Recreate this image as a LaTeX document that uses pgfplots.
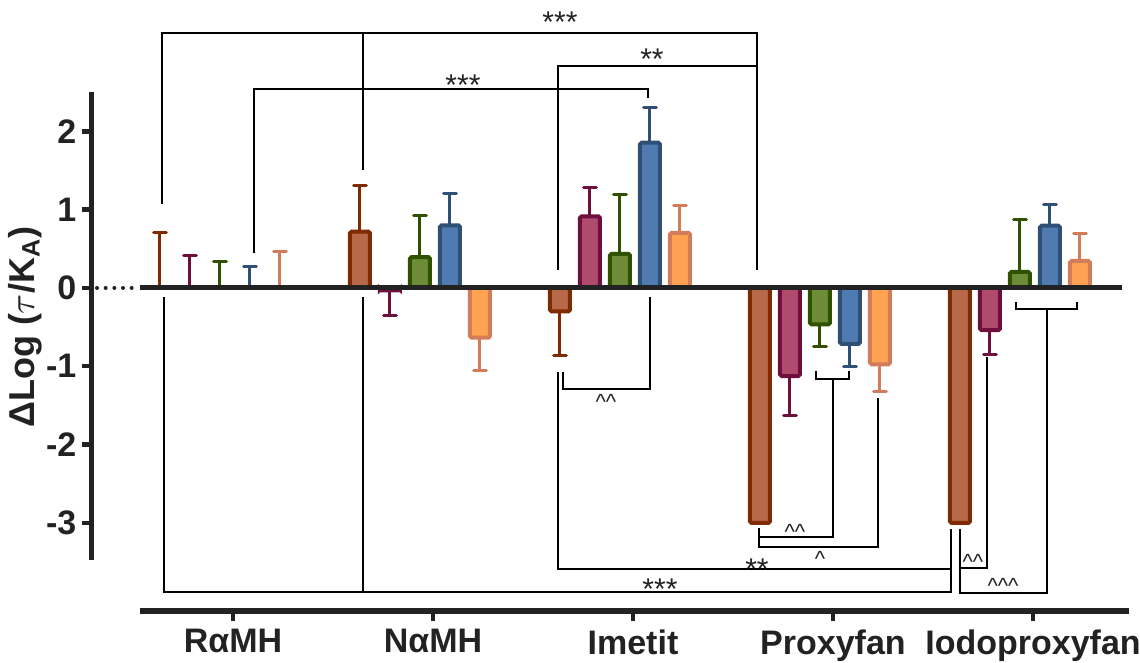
\documentclass[border=0pt]{standalone}
\usepackage{fontspec}
\setmainfont{Liberation Sans}
\usepackage{pgfplots}
\usepackage{pgfplotstable}
\pgfplotsset{compat=1.18}
\definecolor{axc}{HTML}{222222}
\definecolor{c1d}{HTML}{7F2A00}\definecolor{c1f}{HTML}{B7694A}
\definecolor{c2d}{HTML}{6E0F3D}\definecolor{c2f}{HTML}{B04B6E}
\definecolor{c3d}{HTML}{2F5200}\definecolor{c3f}{HTML}{6E8B37}
\definecolor{c4d}{HTML}{2F4F74}\definecolor{c4f}{HTML}{4F7BB0}
\definecolor{c5d}{HTML}{D27C5A}\definecolor{c5f}{HTML}{FFA352}

\pgfplotstableread{
x y ep em
-0.30 0 0.71 0
0.70 0.72 0.595 0
1.70 -0.30 0 0.565
2.70 -3.0 0 0
3.70 -3.0 0 0
}\tA
\pgfplotstableread{
x y ep em
-0.15 0 0.41 0
0.85 -0.03 0 0.32
1.85 0.915 0.365 0
2.85 -1.125 0 0.505
3.85 -0.54 0 0.316
}\tB
\pgfplotstableread{
x y ep em
0.00 0 0.335 0
1.00 0.395 0.525 0
2.00 0.435 0.765 0
3.00 -0.465 0 0.285
4.00 0.205 0.665 0
}\tC
\pgfplotstableread{
x y ep em
0.15 0 0.27 0
1.15 0.80 0.41 0
2.15 1.855 0.455 0
3.15 -0.715 0 0.285
4.15 0.795 0.265 0
}\tD
\pgfplotstableread{
x y ep em
0.30 0 0.47 0
1.30 -0.635 0 0.421
2.30 0.705 0.345 0
3.30 -0.975 0 0.345
4.30 0.345 0.345 0
}\tE

\pgfplotsset{
  mybar/.style n args={2}{ybar, bar width=0.1, bar shift=0pt, draw=#1, fill=#2,
    line width=1.2pt, rounded corners=0.5pt, mark=none,
    error bars/.cd, y dir=both, y explicit, error mark=|,
    error bar style={line width=0.9pt, color=#1, sharp corners},
    error mark options={line width=0.9pt, mark size=1.9pt, color=#1, line cap=round}},
}
\tikzset{br/.style={line width=0.6pt, black}, st/.style={font=\fontsize{9}{10}\selectfont, anchor=base, inner sep=0pt, text=axc},
  ca/.style={font=\fontsize{6.6}{7}\selectfont, anchor=base, inner sep=0pt, text=axc}}

\begin{document}
\begin{tikzpicture}
\begin{axis}[
  scale only axis, x=60pt, y=23.49pt,
  xmin=-0.64, xmax=4.6, ymin=-4.125, ymax=2.5,
  clip=false,
  axis x line*=bottom, axis y line*=left,
  axis line style={draw=none},
  tick align=outside, major tick length=3pt,
  tick style={line width=1.3pt, color=axc},
  xtick={0.065,1.065,2.065,3.065,4.065},
  xticklabels={RαMH,NαMH,Imetit,Proxyfan,Iodoproxyfan},
  ytick={-3,-2,-1,0,1,2},
  yticklabels={-3,-2,-1,0,1,2},
  ticklabel style={font=\bfseries\fontsize{10.2}{12}\selectfont, text=axc},
  yticklabel style={inner sep=1.5pt},
  xticklabel style={yshift=1pt},
]
\addplot[mybar={c1d}{c1f}] table[x=x,y=y,y error plus=ep,y error minus=em]{\tA};
\addplot[mybar={c2d}{c2f}] table[x=x,y=y,y error plus=ep,y error minus=em]{\tB};
\addplot[mybar={c3d}{c3f}] table[x=x,y=y,y error plus=ep,y error minus=em]{\tC};
\addplot[mybar={c4d}{c4f}] table[x=x,y=y,y error plus=ep,y error minus=em]{\tD};
\addplot[mybar={c5d}{c5f}] table[x=x,y=y,y error plus=ep,y error minus=em]{\tE};

% axes
\draw[line width=1.5pt, axc] (-0.64,-3.474) -- (-0.64,2.503);
\draw[line width=1.6pt, axc] (-0.4,-4.125) -- (4.545,-4.125);
\draw[line width=1.5pt, axc] (-0.4,0) -- (4.51,0);
\draw[line width=1.2pt, axc, line cap=round, dash pattern=on 0pt off 2.6pt] (-0.615,0) -- (-0.41,0);

% top brackets
\draw[br] (-0.29,1.073) -- (-0.29,3.257) -- (2.685,3.257) -- (2.685,0.23);
\draw[br] (0.715,1.507) -- (0.715,3.257);
\draw[br] (1.69,0.23) -- (1.69,2.835) -- (2.685,2.835);
\draw[br] (0.17,0.447) -- (0.17,2.54) -- (2.14,2.54) -- (2.14,2.43);
\node[st] at (1.70,3.257) {***};
\node[st] at (2.16,2.784) {**};
\node[st] at (1.215,2.452) {***};

% bottom brackets
\draw[br] (-0.28,-0.115) -- (-0.28,-3.88) -- (3.655,-3.88) -- (3.655,-3.078);
\draw[br] (0.715,-0.115) -- (0.715,-3.88);
\draw[br] (1.69,-1.073) -- (1.69,-3.589) -- (3.655,-3.589);
\draw[br] (1.715,-1.073) -- (1.715,-1.29) -- (2.15,-1.29) -- (2.15,-0.115);
\draw[br] (2.695,-3.065) -- (2.695,-3.18) -- (3.065,-3.18) -- (3.065,-1.162);
\draw[br] (2.98,-1.06) -- (2.98,-1.162) -- (3.145,-1.162) -- (3.145,-1.06);
\draw[br] (2.695,-3.18) -- (2.695,-3.308) -- (3.29,-3.308) -- (3.29,-1.405);
\draw[br] (3.70,-3.078) -- (3.70,-3.895) -- (4.135,-3.895) -- (4.135,-0.268);
\draw[br] (3.70,-3.576) -- (3.835,-3.576) -- (3.835,-0.881);
\draw[br] (3.98,-0.179) -- (3.98,-0.268) -- (4.285,-0.268) -- (4.285,-0.179);
\node[st] at (2.20,-3.985) {***};
\node[st] at (2.685,-3.729) {**};
\node[ca] at (1.93,-1.558) {\textasciicircum\textasciicircum};
\node[ca] at (2.875,-3.218) {\textasciicircum\textasciicircum};
\node[ca] at (3.00,-3.563) {\textasciicircum};
\node[ca] at (3.765,-3.602) {\textasciicircum\textasciicircum};
\node[ca] at (3.915,-3.908) {\textasciicircum\textasciicircum\textasciicircum};

% y label
\node[rotate=90, font=\bfseries\fontsize{10.8}{12}\selectfont, text=axc] at (-0.975,-0.498) {ΔLog ($\tau$/K\textsubscript{A})};

\coordinate (bbBL) at (-1.1,-4.789);
\coordinate (bbTR) at (4.6,3.678);
\end{axis}
\pgfresetboundingbox
\path[use as bounding box] (bbBL) rectangle (bbTR);
\end{tikzpicture}
\end{document}
